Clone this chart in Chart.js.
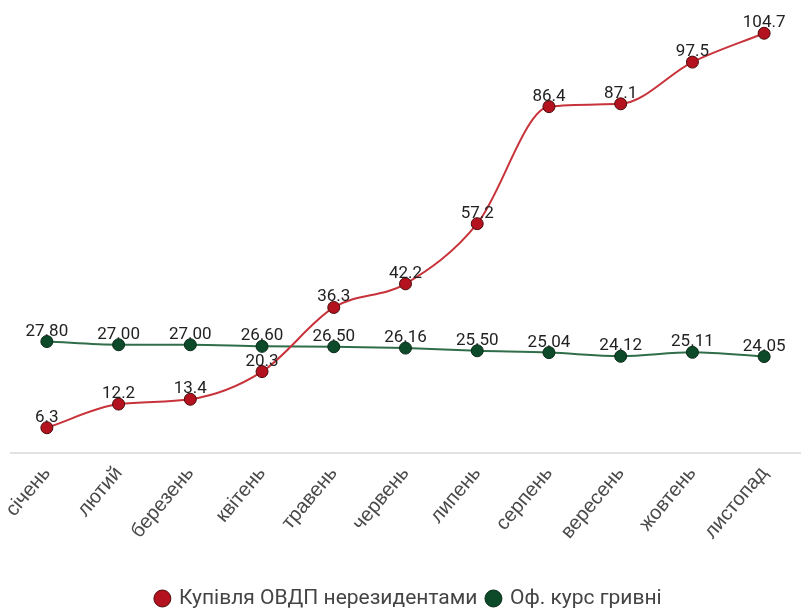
<!DOCTYPE html>
<html>
<head>
<meta charset="utf-8">
<script src="https://cdn.jsdelivr.net/npm/chart.js@4.4.1/dist/chart.umd.min.js"></script>
<style>
  html, body { margin: 0; padding: 0; background: #fff; }
  #wrap { width: 807px; height: 610px; position: relative; }
</style>
</head>
<body>
<div id="wrap"><canvas id="chart"></canvas></div>
<script>
// Місяці
const months = ['січень', 'лютий', 'березень', 'квітень', 'травень', 'червень',
    'липень', 'серпень', 'вересень', 'жовтень', 'листопад'];

// Купівля ОВДП нерезидентами
const bondPurchases = [6.3, 12.2, 13.4, 20.3, 36.3, 42.2, 57.2, 86.4, 87.1, 97.5, 104.7];

// Оф. курс гривні
const uahRate = [27.80, 27.00, 27.00, 26.60, 26.50, 26.16, 25.50, 25.04, 24.12, 25.11, 24.05];

const bondLabels = bondPurchases.map(v => v.toFixed(1));
const rateLabels = uahRate.map(v => v.toFixed(2));

// Підписи значень над точками
const valueLabels = {
    id: 'valueLabels',
    afterDatasetsDraw(chart) {
        const ctx = chart.ctx;
        ctx.save();
        ctx.font = '17px Roboto';
        ctx.fillStyle = '#222';
        ctx.textAlign = 'center';
        ctx.textBaseline = 'alphabetic';
        chart.data.datasets.forEach((ds, i) => {
            const meta = chart.getDatasetMeta(i);
            meta.data.forEach((pt, j) => {
                ctx.fillText(ds.valueText[j], pt.x, pt.y - 6);
            });
        });
        ctx.restore();
    }
};

new Chart(document.getElementById('chart'), {
    type: 'line',
    data: {
        labels: months,
        datasets: [
            {
                label: 'Купівля ОВДП нерезидентами',
                data: bondPurchases,
                valueText: bondLabels,
                borderColor: '#c8323a',
                backgroundColor: '#c0101c',
                pointBackgroundColor: '#b5121f',
                pointBorderColor: '#4a0a0a',
                pointBorderWidth: 1,
                pointRadius: 6,
                borderWidth: 2,
                cubicInterpolationMode: 'monotone'
            },
            {
                label: 'Оф. курс гривні',
                data: uahRate,
                valueText: rateLabels,
                borderColor: '#2f6e48',
                backgroundColor: '#0b5a2c',
                pointBackgroundColor: '#0d4a2a',
                pointBorderColor: '#082a16',
                pointBorderWidth: 1,
                pointRadius: 6,
                borderWidth: 2,
                cubicInterpolationMode: 'monotone'
            }
        ]
    },
    options: {
        responsive: true,
        maintainAspectRatio: false,
        animation: false,
        layout: {
            padding: { top: 12, left: 11, right: 0, bottom: -9 }
        },
        plugins: {
            legend: {
                position: 'bottom',
                labels: {
                    usePointStyle: true,
                    pointStyle: 'circle',
                    boxWidth: 12,
                    boxHeight: 12,
                    padding: 10,
                    color: '#444',
                    font: { family: 'Roboto', size: 21 }
                }
            },
            tooltip: { enabled: false }
        },
        scales: {
            x: {
                offset: true,
                grid: { display: false, drawTicks: false },
                border: { display: true, color: '#e2e2e2', width: 2 },
                ticks: {
                    color: '#4a4a4a',
                    maxRotation: 50,
                    minRotation: 50,
                    padding: 9,
                    font: { family: 'Liberation Sans', size: 20 }
                },
                afterFit(scale) {
                    scale.height = 125;
                    scale.paddingLeft = 0;
                    scale.paddingRight = 0;
                }
            },
            y: {
                display: false,
                min: 0,
                max: 110
            }
        }
    },
    plugins: [valueLabels]
});
</script>
</body>
</html>
